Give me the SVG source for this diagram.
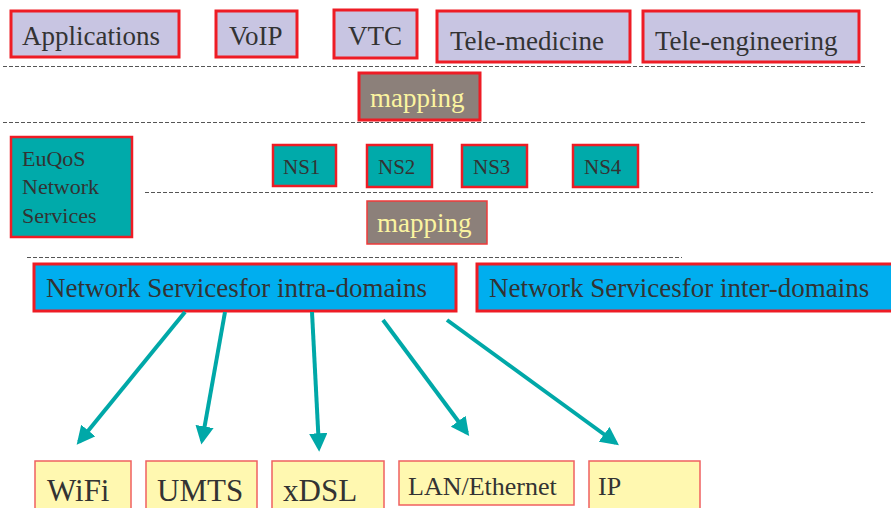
<svg xmlns="http://www.w3.org/2000/svg" width="891" height="508" viewBox="0 0 891 508">
<defs>
<style>
text{font-family:"Liberation Serif","Times New Roman",serif;fill:#333;}
.app{fill:#c8c5e2;stroke:#ee1c25;stroke-width:3;}
.map{fill:#8c807a;stroke:#ee1c25;stroke-width:3;}
.map2{fill:#8c807a;stroke:#ee3a3a;stroke-width:1.5;}
.ns{fill:#00aaaa;stroke:#ee1c25;stroke-width:2.5;}
.blue{fill:#00aeef;stroke:#ee1c25;stroke-width:3;}
.tech{fill:#fff8b0;stroke:#f06060;stroke-width:1.5;}
.dash{stroke:#555;stroke-width:1;stroke-dasharray:4 2;fill:none;}
.arr{stroke:#00a8a8;stroke-width:4;fill:none;marker-end:url(#ah);}
.mt{fill:#fbf4a0;}
</style>
<marker id="ah" viewBox="0 0 10 10" refX="8" refY="5" markerWidth="4.6" markerHeight="4.6" orient="auto" markerUnits="strokeWidth">
<path d="M0,0 L10,5 L0,10 z" fill="#00a8a8"/>
</marker>
</defs>
<rect width="891" height="508" fill="#fff"/>
<g id="lines">
<line class="dash" x1="3" y1="66.5" x2="866" y2="66.5"/>
<line class="dash" x1="3" y1="122.5" x2="866" y2="122.5"/>
<line class="dash" x1="145" y1="192.5" x2="873" y2="192.5"/>
<line class="dash" x1="27" y1="257.5" x2="682" y2="257.5"/>
</g>
<g id="applications"><rect class="app" x="11" y="11" width="168" height="46"/><text x="22" y="45" font-size="27">Applications</text></g>
<g id="voip"><rect class="app" x="216" y="11" width="81" height="46"/><text x="229" y="45" font-size="27">VoIP</text></g>
<g id="vtc"><rect class="app" x="334" y="10" width="83" height="48"/><text x="348" y="45" font-size="27">VTC</text></g>
<g id="telemedicine"><rect class="app" x="437" y="11" width="193" height="51"/><text x="450" y="50" font-size="27">Tele-medicine</text></g>
<g id="teleengineering"><rect class="app" x="643" y="11" width="216" height="51"/><text x="655" y="50" font-size="27">Tele-engineering</text></g>
<g id="mapping1"><rect class="map" x="359" y="73" width="121" height="47"/><text class="mt" x="370" y="107" font-size="27">mapping</text></g>
<g id="euqos"><rect class="ns" x="11" y="137" width="121" height="100" stroke-width="3"/>
<text x="22" y="166" font-size="22">EuQoS</text><text x="22" y="194" font-size="22">Network</text><text x="22" y="223" font-size="22">Services</text></g>
<g id="ns1"><rect class="ns" x="273" y="145" width="63" height="41" stroke-width="1.8"/><text x="283" y="174" font-size="21">NS1</text></g>
<g id="ns2"><rect class="ns" x="367" y="145" width="65" height="42"/><text x="378" y="174" font-size="21">NS2</text></g>
<g id="ns3"><rect class="ns" x="462" y="145" width="65" height="42"/><text x="473" y="174" font-size="21">NS3</text></g>
<g id="ns4"><rect class="ns" x="573" y="145" width="65" height="42"/><text x="584" y="174" font-size="21">NS4</text></g>
<g id="mapping2"><rect class="map2" x="367" y="201" width="120" height="43"/><text class="mt" x="377" y="232" font-size="27">mapping</text></g>
<g id="intra"><rect class="blue" x="34" y="264" width="422" height="47"/><text x="46" y="297" font-size="27">Network Servicesfor intra-domains</text></g>
<g id="inter"><rect class="blue" x="477" y="264" width="420" height="47"/><text x="489" y="297" font-size="27">Network Servicesfor inter-domains</text></g>
<g id="wifi"><rect class="tech" x="35" y="461" width="96" height="52"/><text x="47" y="501" font-size="31">WiFi</text></g>
<g id="umts"><rect class="tech" x="146" y="461" width="111" height="52"/><text x="157" y="501" font-size="31">UMTS</text></g>
<g id="xdsl"><rect class="tech" x="272" y="461" width="112" height="52"/><text x="283" y="501" font-size="31">xDSL</text></g>
<g id="lan"><rect class="tech" x="399" y="461" width="175" height="44"/><text x="408" y="495" font-size="26">LAN/Ethernet</text></g>
<g id="ip"><rect class="tech" x="589" y="461" width="111" height="52"/><text x="598" y="495" font-size="26">IP</text></g>
<g id="connectors">
<line class="arr" x1="185" y1="312" x2="79" y2="442"/>
<line class="arr" x1="225" y1="312" x2="202" y2="441"/>
<line class="arr" x1="312" y1="312" x2="319" y2="448"/>
<line class="arr" x1="383" y1="320" x2="467" y2="433"/>
<line class="arr" x1="447" y1="320" x2="616" y2="443"/>
</g>
</svg>
